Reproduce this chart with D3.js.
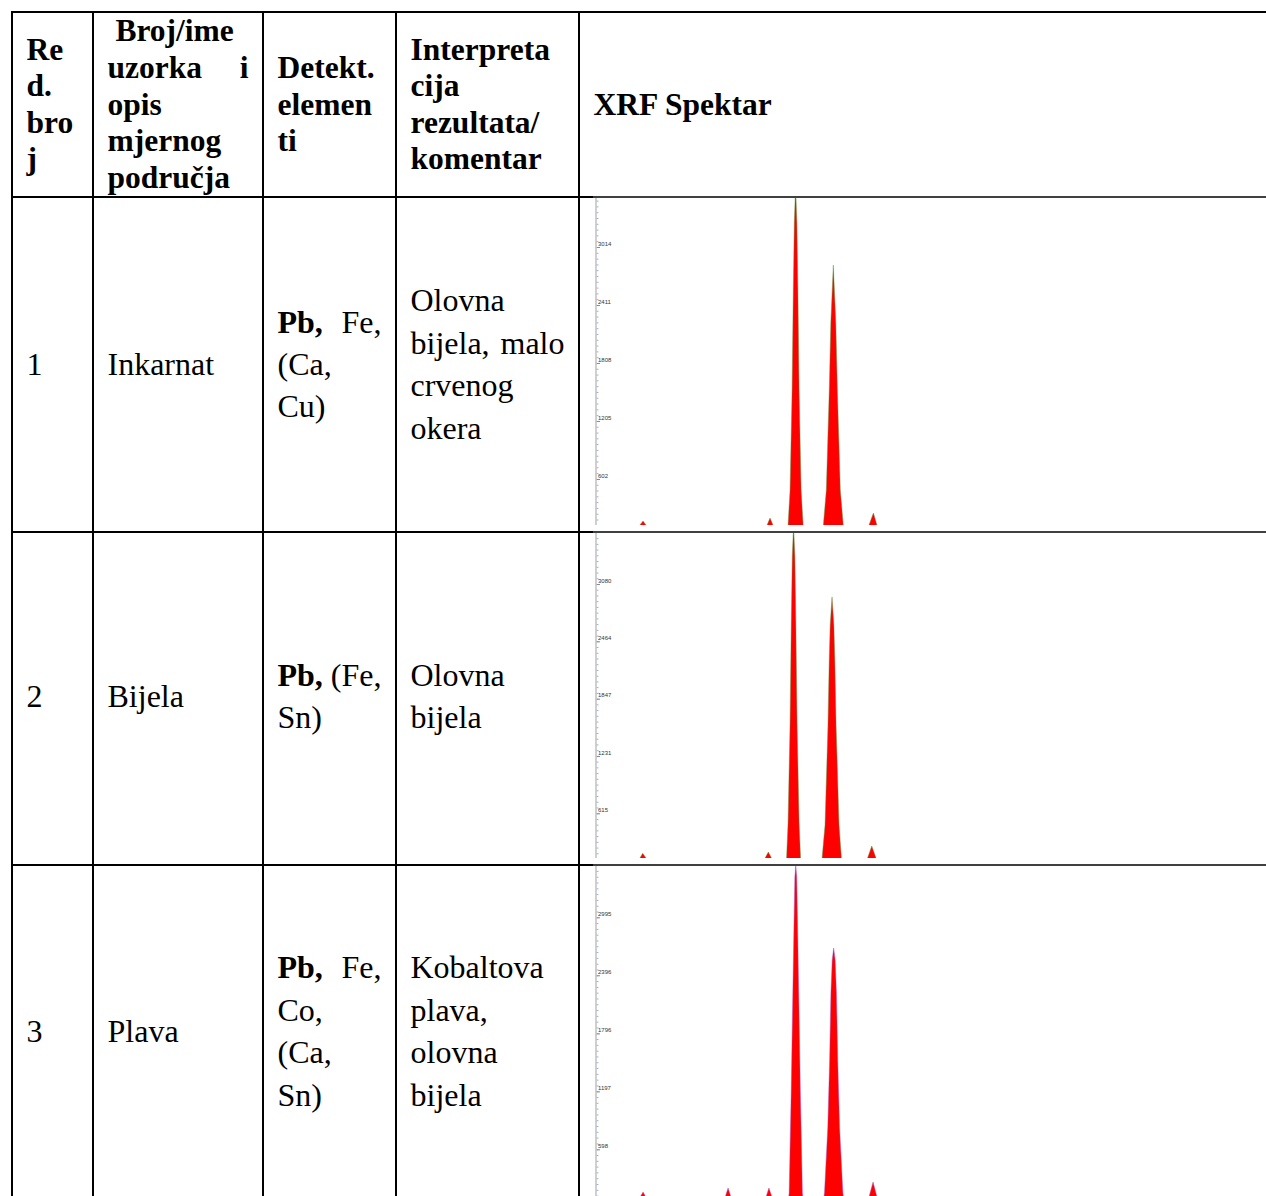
<!DOCTYPE html>
<html>
<head>
<meta charset="utf-8">
<script src="https://cdn.jsdelivr.net/npm/d3@7"></script>
<style>
  body { margin: 0; background: #fff; }
  text { font-family: "Liberation Serif", "Times New Roman", serif; white-space: pre; }
</style>
</head>
<body>
<svg id="chart"></svg>
<script>
// table texts; an array line is justified across the cell, "*" marks bold
const headerLines = [
    ["Re", "d.", "bro", "j"],
    [" Broj/ime", ["uzorka", "i"], "opis", "mjernog", "područja"],
    ["Detekt.", "elemen", "ti"],
    ["Interpreta", "cija", "rezultata/", "komentar"],
    ["XRF Spektar"]
];
const rowNumbers = ["1", "2", "3"];
const sampleNames = ["Inkarnat", "Bijela", "Plava"];
const elements = [
    [["*Pb,", "Fe,"], "(Ca,", "Cu)"],
    [["*Pb,", "(Fe,"], "Sn)"],
    [["*Pb,", "Fe,"], "Co,", "(Ca,", "Sn)"]
];
const comments = [
    ["Olovna", ["bijela,", "malo"], "crvenog", "okera"],
    ["Olovna", "bijela"],
    ["Kobaltova", "plava,", "olovna", "bijela"]
];

// y axis labels of the three spectra (counts)
const ticks1 = [602, 1205, 1808, 2411, 3014];
const ticks2 = [615, 1231, 1847, 2464, 3080];
const ticks3 = [598, 1197, 1796, 2396, 2995];

// peaks as [keV, counts] outlines
const spectrum1 = [
    [[2.17, 124], [2.34, 165], [2.50, 124]],
    [[9.08, 124], [9.24, 196], [9.40, 124]],
    [[10.22, 124], [10.33, 488], [10.44, 1527], [10.505, 2567], [10.56, 3263], [10.63, 3650],
     [10.70, 3263], [10.755, 2567], [10.82, 1527], [10.93, 488], [11.04, 124]],
    [[12.14, 124], [12.30, 488], [12.46, 1527], [12.544, 2224], [12.68, 2826],
     [12.816, 2224], [12.90, 1527], [13.06, 488], [13.22, 124]],
    [[14.62, 124], [14.86, 248], [15.05, 124]]
];
const spectrum2 = [
    [[2.17, 134], [2.32, 185], [2.50, 134]],
    [[8.97, 134], [9.15, 199], [9.32, 134]],
    [[10.14, 134], [10.22, 511], [10.33, 1586], [10.395, 2661], [10.45, 3382], [10.52, 3710],
     [10.59, 3382], [10.645, 2661], [10.71, 1586], [10.82, 511], [10.90, 134]],
    [[12.07, 134], [12.23, 489], [12.39, 1565], [12.46, 2285], [12.51, 2640], [12.61, 2941],
     [12.71, 2640], [12.76, 2285], [12.83, 1565], [12.99, 489], [13.12, 134]],
    [[14.54, 134], [14.77, 263], [15.00, 134]]
];
const spectrum3 = [
    [[2.12, 85], [2.34, 157], [2.55, 85]],
    [[6.77, 85], [6.96, 199], [7.15, 85]],
    [[8.99, 85], [9.18, 199], [9.38, 85]],
    [[10.24, 85], [10.28, 147], [10.39, 1180], [10.48, 2213], [10.54, 2895], [10.59, 3412], [10.64, 3535],
     [10.69, 3412], [10.74, 2895], [10.80, 2213], [10.89, 1180], [11.00, 147], [11.04, 85]],
    [[12.15, 85], [12.20, 147], [12.38, 827], [12.48, 1521], [12.55, 2213], [12.62, 2554], [12.70, 2678],
     [12.78, 2554], [12.85, 2213], [12.92, 1521], [13.02, 827], [13.20, 147], [13.25, 85]],
    [[14.59, 85], [14.84, 261], [15.08, 85]]
];

const W = 1266, H = 1196;
const svg = d3.select("#chart").attr("width", W).attr("height", H);

const colX = [12, 93, 263, 396, 579, W];
const pad = 14.5;

// layout of each row: cell edges, text middle, and where 0 / top label sit on the spectrum axis
const rows = [
    { top: 197, bottom: 532, textMid: 375, zeroY: 536.9, labelY: 247, ticks: ticks1, data: spectrum1, edge: "#4f9a3a" },
    { top: 532, bottom: 865, textMid: 707, zeroY: 870.5, labelY: 584, ticks: ticks2, data: spectrum2, edge: "#4f9a3a" },
    { top: 865, bottom: 1240, textMid: 1042, zeroY: 1207.2, labelY: 917.3, ticks: ticks3, data: spectrum3, edge: "#a050c8" }
];

function drawCell(col, lines, midY, lh, size, weight) {
    let x0 = colX[col] + pad, x1 = colX[col + 1] - pad;
    let firstY = midY - (lines.length - 1) / 2 * lh;
    lines.forEach((line, i) => {
        let words = Array.isArray(line) ? line : [line];
        words.forEach((w, j) => {
            let bold = w.startsWith("*");
            let last = words.length > 1 && j === words.length - 1;
            svg.append("text")
                .attr("x", last ? x1 : x0)
                .attr("y", firstY + i * lh)
                .attr("text-anchor", last ? "end" : "start")
                .attr("font-size", size)
                .attr("font-weight", bold ? "bold" : weight)
                .text(bold ? w.slice(1) : w);
        });
    });
}

// header
headerLines.forEach((lines, c) => drawCell(c, lines, 114.5, 36.6, 31.5, "bold"));

// body rows
rows.forEach((r, i) => {
    drawCell(0, [rowNumbers[i]], r.textMid, 42.4, 32, "normal");
    drawCell(1, [sampleNames[i]], r.textMid, 42.4, 32, "normal");
    drawCell(2, elements[i], r.textMid, 42.4, 32, "normal");
    drawCell(3, comments[i], r.textMid, 42.4, 32, "normal");
});

// spectra
const x = d3.scaleLinear().domain([0, 36]).range([600, 600 + 36 * 18.4]);
const axisX = 596;

rows.forEach((r, i) => {
    let top = r.ticks[r.ticks.length - 1];
    let y = d3.scaleLinear().domain([0, top]).range([r.zeroY, r.labelY]);
    let baseline = y(d3.min(r.data.flat(), d => d[1]));
    let g = svg.append("g");

    svg.append("clipPath").attr("id", "clip" + i)
        .append("rect")
        .attr("x", axisX).attr("y", r.top + 1)
        .attr("width", W - axisX).attr("height", baseline - r.top - 1);

    let area = d3.area()
        .x(d => x(d[0]))
        .y0(d => baseline)
        .y1(d => y(d[1]));
    let line = d3.line().x(d => x(d[0])).y(d => y(d[1]));

    let peaks = g.append("g").attr("clip-path", `url(#clip${i})`);
    peaks.selectAll("path.fill")
        .data(r.data)
        .enter()
        .append("path")
        .attr("class", "fill")
        .attr("d", area)
        .attr("fill", "#ff0000");
    peaks.selectAll("path.edge")
        .data(r.data)
        .enter()
        .append("path")
        .attr("class", "edge")
        .attr("d", line)
        .attr("fill", "none")
        .attr("stroke", r.edge)
        .attr("stroke-width", 0.6)
        .attr("opacity", 0.7);

    // axis: minor ticks every tenth of a label step
    let step = top / 5;
    let minor = d3.range(1, 80).map(k => k * step / 10)
        .filter(v => y(v) > r.top + 2 && y(v) < baseline);

    let ax = g.append("g").attr("transform", `translate(${axisX},0)`);
    ax.call(d3.axisRight(y).tickValues(minor).tickSize(2.5).tickFormat(""));
    ax.select(".domain").remove();
    ax.selectAll(".tick line").attr("stroke", "#9db3d2").attr("stroke-width", 1);

    let major = g.append("g").attr("transform", `translate(${axisX},0)`);
    major.call(d3.axisRight(y).tickValues(r.ticks).tickSize(4).tickFormat(d3.format("d")));
    major.select(".domain").remove();
    major.selectAll(".tick line").attr("stroke", "#6f8fc0").attr("stroke-width", 1);
    major.selectAll(".tick text")
        .attr("x", 2).attr("dy", "-0.3em")
        .attr("fill", "#333")
        .style("font-family", "'Liberation Sans', Arial, sans-serif")
        .style("font-size", "6px");

    g.append("line")
        .attr("x1", axisX).attr("x2", axisX)
        .attr("y1", r.top + 1).attr("y2", Math.min(baseline, H))
        .attr("stroke", "#c4c4c4").attr("stroke-width", 1.6);
});

// table rules
const rules = svg.append("g").attr("stroke", "#000");
rules.append("line").attr("x1", 11).attr("x2", W).attr("y1", 12).attr("y2", 12).attr("stroke-width", 2.2);
colX.slice(0, 5).forEach(cx => {
    rules.append("line").attr("x1", cx).attr("x2", cx).attr("y1", 11).attr("y2", H).attr("stroke-width", 2);
});
[197, 532, 865].forEach(ry => {
    rules.append("line").attr("x1", 11).attr("x2", 593).attr("y1", ry).attr("y2", ry).attr("stroke-width", 2);
    rules.append("line").attr("x1", 593).attr("x2", W).attr("y1", ry).attr("y2", ry).attr("stroke-width", 1.4);
});
</script>
</body>
</html>
